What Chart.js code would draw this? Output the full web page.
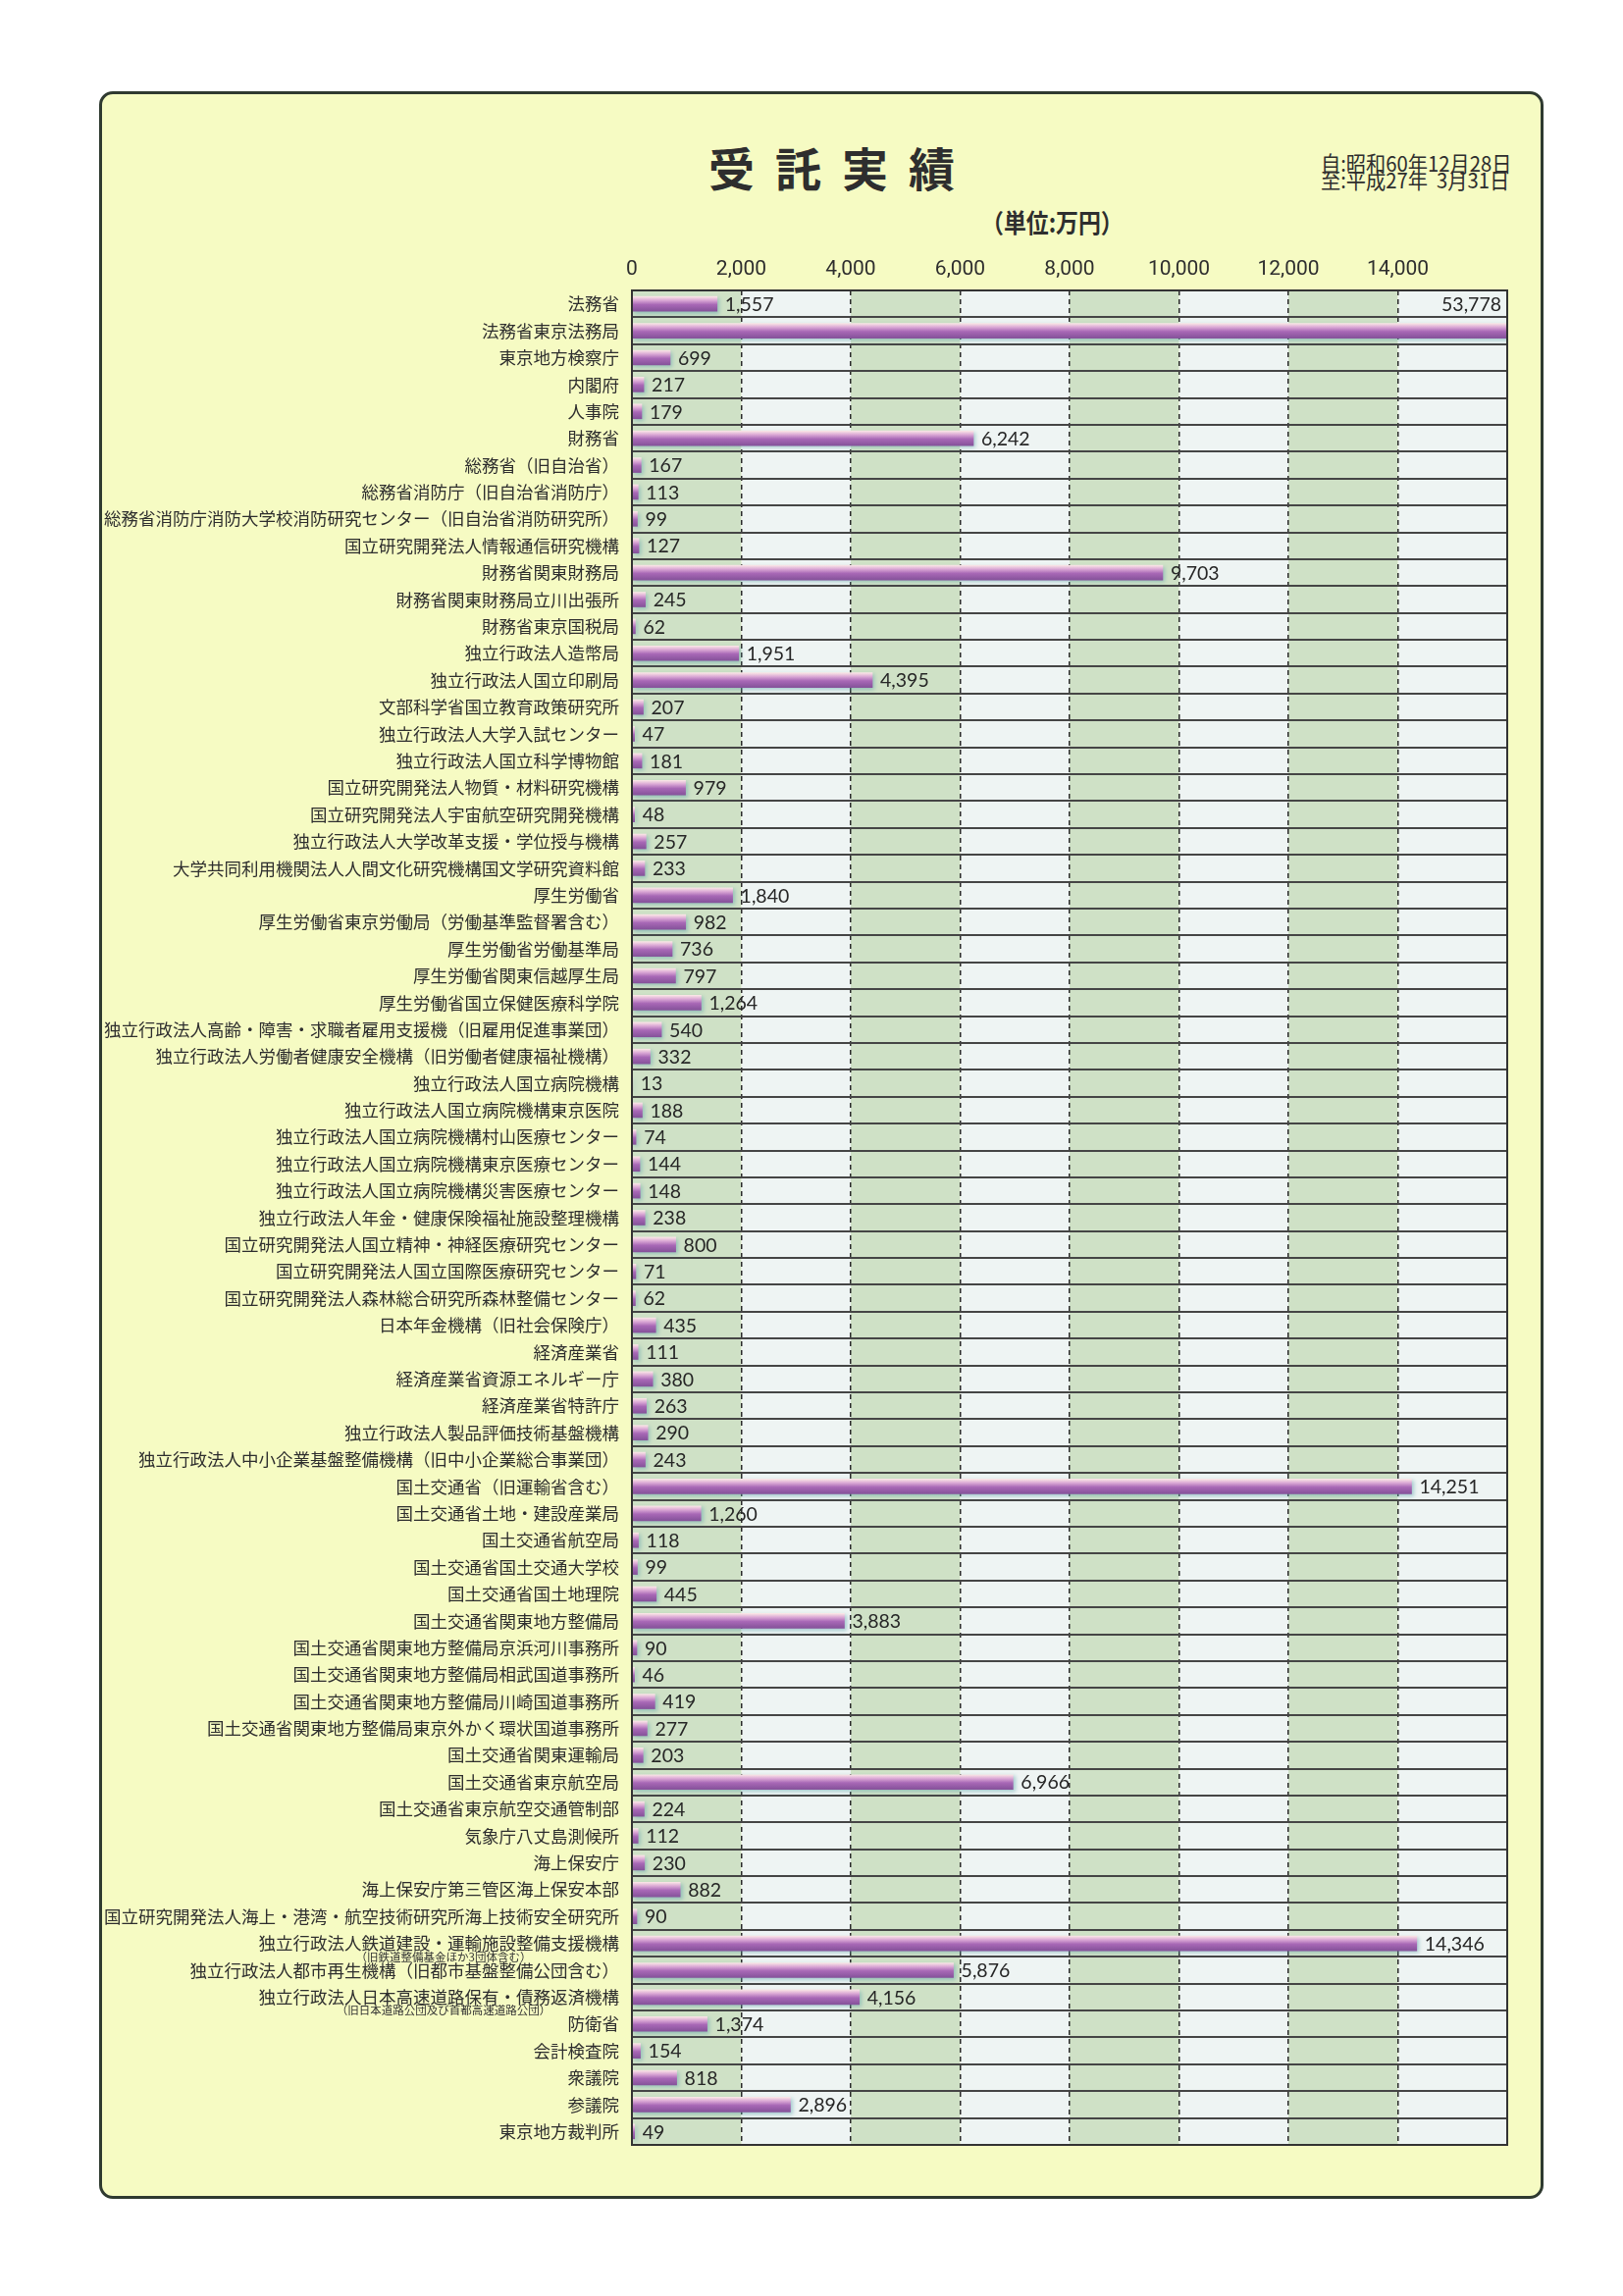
<!DOCTYPE html>
<html lang="ja">
<head>
<meta charset="utf-8">
<title>受託実績</title>
<script src="https://cdn.jsdelivr.net/npm/chart.js@4.4.1/dist/chart.umd.min.js"></script>
<style>
  body { margin: 0; background: #fff; }
  #page { position: relative; width: 1654px; height: 2340px; overflow: hidden; }
  #frame {
    position: absolute; left: 101px; top: 93px; width: 1472px; height: 2148px;
    box-sizing: border-box; border: 3px solid #2f3a30; border-radius: 14px;
    background: #f6fbc3;
  }
  .txt { position: absolute; color: #2e2e2e; font-family: "Noto Sans CJK JP", sans-serif; white-space: nowrap; }
  #title { left: 722px; top: 140px; font-size: 47px; font-weight: 700; letter-spacing: 21px; line-height: 60px; }
  #period { right: 114px; top: 157px; font-size: 22px; line-height: 17px; text-align: left; transform: scaleX(0.92); transform-origin: right top; }
  #unit { left: 1000px; top: 209px; font-size: 26px; font-weight: 700; line-height: 34px; transform: scaleX(0.88); transform-origin: left top; }
  #wrap { position: absolute; left: 0; top: 0; width: 1654px; height: 2340px; }
</style>
</head>
<body>
<div id="page">
  <div id="frame"></div>
  <div class="txt" id="title">受託実績</div>
  <div class="txt" id="period">自:昭和60年12月28日<br>至:平成27年&nbsp;&nbsp;3月31日</div>
  <div class="txt" id="unit">（単位:万円）</div>
  <div id="wrap"><canvas id="myChart"></canvas></div>
</div>
<script>
// 発注元
const labels = [
  '法務省', '法務省東京法務局', '東京地方検察庁', '内閣府', '人事院', '財務省',
  '総務省（旧自治省）', '総務省消防庁（旧自治省消防庁）',
  '総務省消防庁消防大学校消防研究センター（旧自治省消防研究所）',
  '国立研究開発法人情報通信研究機構', '財務省関東財務局', '財務省関東財務局立川出張所',
  '財務省東京国税局', '独立行政法人造幣局', '独立行政法人国立印刷局',
  '文部科学省国立教育政策研究所', '独立行政法人大学入試センター', '独立行政法人国立科学博物館',
  '国立研究開発法人物質・材料研究機構', '国立研究開発法人宇宙航空研究開発機構',
  '独立行政法人大学改革支援・学位授与機構', '大学共同利用機関法人人間文化研究機構国文学研究資料館',
  '厚生労働省', '厚生労働省東京労働局（労働基準監督署含む）', '厚生労働省労働基準局',
  '厚生労働省関東信越厚生局', '厚生労働省国立保健医療科学院',
  '独立行政法人高齢・障害・求職者雇用支援機（旧雇用促進事業団）',
  '独立行政法人労働者健康安全機構（旧労働者健康福祉機構）', '独立行政法人国立病院機構',
  '独立行政法人国立病院機構東京医院', '独立行政法人国立病院機構村山医療センター',
  '独立行政法人国立病院機構東京医療センター', '独立行政法人国立病院機構災害医療センター',
  '独立行政法人年金・健康保険福祉施設整理機構', '国立研究開発法人国立精神・神経医療研究センター',
  '国立研究開発法人国立国際医療研究センター', '国立研究開発法人森林総合研究所森林整備センター',
  '日本年金機構（旧社会保険庁）', '経済産業省', '経済産業省資源エネルギー庁', '経済産業省特許庁',
  '独立行政法人製品評価技術基盤機構', '独立行政法人中小企業基盤整備機構（旧中小企業総合事業団）',
  '国土交通省（旧運輸省含む）', '国土交通省土地・建設産業局', '国土交通省航空局',
  '国土交通省国土交通大学校', '国土交通省国土地理院', '国土交通省関東地方整備局',
  '国土交通省関東地方整備局京浜河川事務所', '国土交通省関東地方整備局相武国道事務所',
  '国土交通省関東地方整備局川崎国道事務所', '国土交通省関東地方整備局東京外かく環状国道事務所',
  '国土交通省関東運輸局', '国土交通省東京航空局', '国土交通省東京航空交通管制部',
  '気象庁八丈島測候所', '海上保安庁', '海上保安庁第三管区海上保安本部',
  '国立研究開発法人海上・港湾・航空技術研究所海上技術安全研究所',
  '独立行政法人鉄道建設・運輸施設整備支援機構', '独立行政法人都市再生機構（旧都市基盤整備公団含む）',
  '独立行政法人日本高速道路保有・債務返済機構', '防衛省', '会計検査院', '衆議院', '参議院',
  '東京地方裁判所'
];

// 受託金額（万円）
const amounts = [
  1557, 53778, 699, 217, 179, 6242,
  167, 113, 99, 127, 9703, 245,
  62, 1951, 4395, 207, 47, 181,
  979, 48, 257, 233, 1840, 982,
  736, 797, 1264, 540, 332, 13,
  188, 74, 144, 148, 238, 800,
  71, 62, 435, 111, 380, 263,
  290, 243, 14251, 1260, 118, 99,
  445, 3883, 90, 46, 419, 277,
  203, 6966, 224, 112, 230, 882,
  90, 14346, 5876, 4156, 1374, 154,
  818, 2896, 49
];

// 補足（旧名称など）
const subNotes = {
  61: '（旧鉄道整備基金ほか3団体含む）',
  63: '（旧日本道路公団及び首都高速道路公団）'
};

// 目盛り
const axisMax = 16000;
const axisStep = 2000;

const bandPlugin = {
  id: 'bands',
  beforeDraw(chart) {
    const { ctx, chartArea: a, scales: { x } } = chart;
    ctx.save();
    for (let v = 0; v < axisMax; v += axisStep) {
      const x0 = x.getPixelForValue(v);
      const x1 = x.getPixelForValue(v + axisStep);
      ctx.fillStyle = (v / axisStep) % 2 === 0 ? '#cfe1c6' : '#eef4f3';
      ctx.fillRect(x0, a.top, x1 - x0, a.bottom - a.top);
    }
    ctx.restore();
  },
  beforeDatasetsDraw(chart) {
    const ctx = chart.ctx;
    ctx.save();
    ctx.shadowColor = 'rgba(90,160,170,0.5)';
    ctx.shadowBlur = 4;
    ctx.shadowOffsetX = 2;
    ctx.shadowOffsetY = 2;
  },
  afterDatasetsDraw(chart) {
    const { ctx, chartArea: a, scales: { x, y } } = chart;
    ctx.restore();
    ctx.save();
    // 外枠
    ctx.strokeStyle = '#333';
    ctx.lineWidth = 2;
    ctx.strokeRect(a.left, a.top, a.right - a.left, a.bottom - a.top);
    // 数値ラベル
    ctx.font = '19.5px Lato, "Open Sans", sans-serif';
    ctx.fillStyle = '#262626';
    ctx.textBaseline = 'middle';
    amounts.forEach((v, i) => {
      const txt = v.toLocaleString('en-US');
      if (v > axisMax) {
        ctx.textAlign = 'right';
        ctx.fillText(txt, a.right - 6, y.getPixelForValue(i - 1) + 1);
      } else {
        ctx.textAlign = 'left';
        ctx.fillText(txt, x.getPixelForValue(v) + 8, y.getPixelForValue(i) + 1);
      }
    });
    // 補足ラベル
    ctx.font = '11.5px "Noto Sans CJK JP", sans-serif';
    ctx.fillStyle = '#333';
    ctx.textAlign = 'center';
    Object.keys(subNotes).forEach(k => {
      const i = Number(k);
      const yy = (y.getPixelForValue(i) + y.getPixelForValue(i + 1)) / 2;
      ctx.fillText(subNotes[k], 452, yy);
    });
    ctx.restore();
  }
};

const ctx = document.getElementById('myChart').getContext('2d');
new Chart(ctx, {
  type: 'bar',
  data: {
    labels: labels,
    datasets: [{
      data: amounts,
      barThickness: 15,
      backgroundColor: (c) => {
        const chart = c.chart;
        if (!chart.chartArea) return '#a066b0';
        const yc = chart.scales.y.getPixelForValue(c.dataIndex);
        const g = chart.ctx.createLinearGradient(0, yc - 7.5, 0, yc + 7.5);
        g.addColorStop(0, '#fae6e6');
        g.addColorStop(0.25, '#dcaad6');
        g.addColorStop(0.55, '#a868b6');
        g.addColorStop(1, '#85529a');
        return g;
      },
      borderWidth: 0
    }]
  },
  options: {
    indexAxis: 'y',
    responsive: true,
    maintainAspectRatio: false,
    animation: false,
    layout: { padding: { left: 0, top: 250, right: 118, bottom: 154 } },
    plugins: {
      legend: { display: false },
      tooltip: { enabled: false }
    },
    scales: {
      x: {
        position: 'top',
        min: 0,
        max: axisMax,
        afterFit: (s) => { s.height = 46; },
        ticks: {
          stepSize: axisStep,
          padding: 9,
          color: '#2e2e2e',
          font: { family: '"Liberation Sans Narrow", "Roboto", sans-serif', size: 21 },
          callback: (v) => v >= axisMax ? '' : v.toLocaleString('en-US')
        },
        grid: { color: '#2b2b2b', lineWidth: 1.5, drawTicks: false },
        border: { display: false, dash: [5, 4] }
      },
      y: {
        afterFit: (s) => { s.width = 644; },
        ticks: {
          autoSkip: false,
          padding: 13,
          color: '#2e2e2e',
          font: { family: '"Noto Sans CJK JP", sans-serif', size: 17.5 }
        },
        grid: { color: '#454545', lineWidth: 2, drawTicks: false, offset: true },
        border: { display: false }
      }
    }
  },
  plugins: [bandPlugin]
});
</script>
</body>
</html>
